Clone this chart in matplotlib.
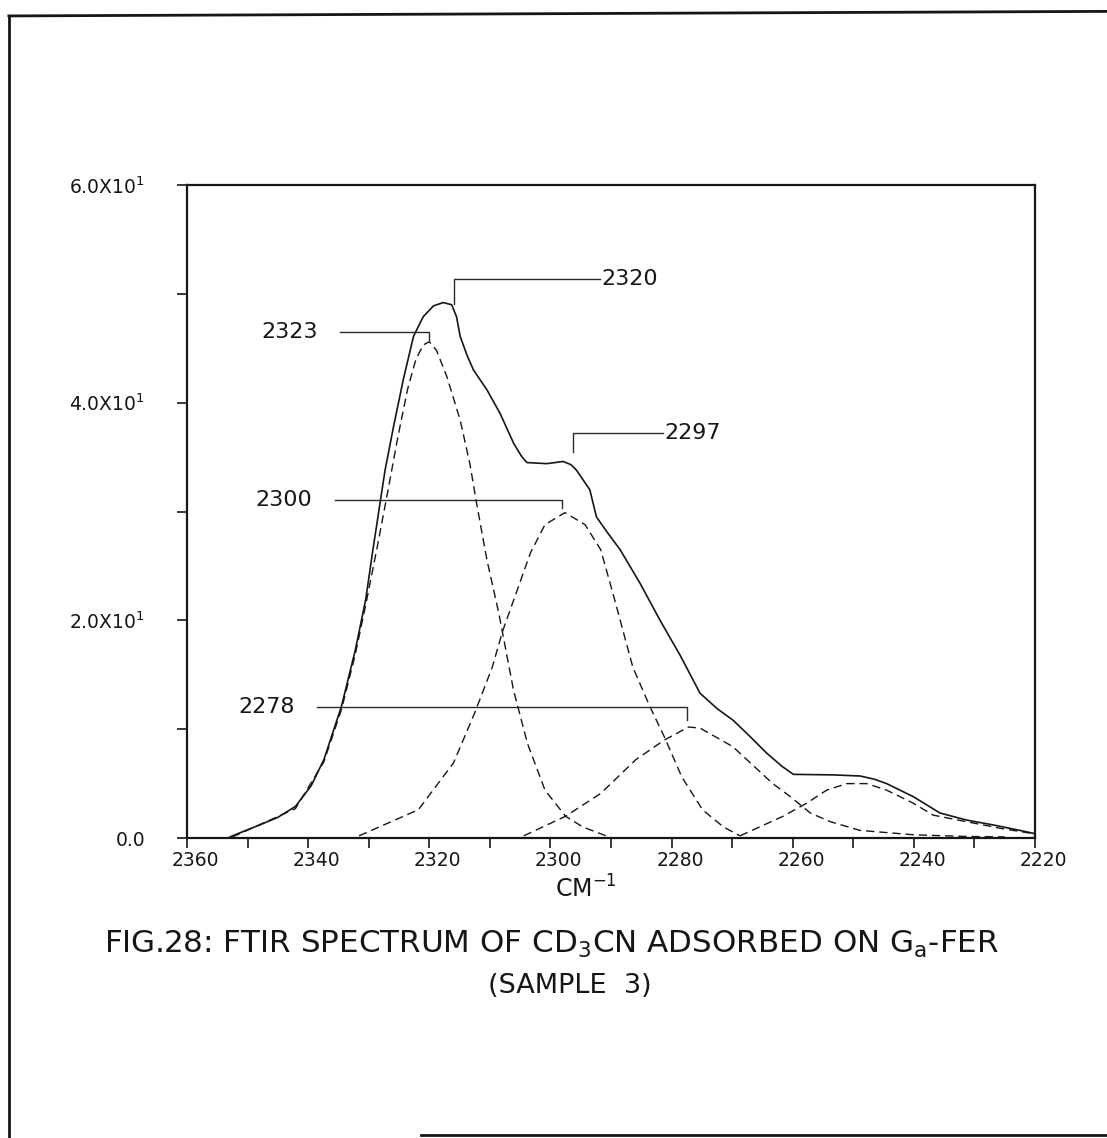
"""FTIR spectrum of CD3CN on Ga-FER (sample 3): traced total curve + fitted bands."""
import matplotlib
matplotlib.use("Agg")
import matplotlib.pyplot as plt
from matplotlib.lines import Line2D
from matplotlib.transforms import ScaledTranslation

plt.rcParams["font.family"] = ["DejaVu Sans"]
plt.rcParams["mathtext.default"] = "regular"

# total spectrum (wavenumber cm-1, absorbance)
total_x = [2353.2, 2352.5, 2348.0, 2345.0, 2342.1, 2339.5, 2337.4, 2334.5, 2332.2,
           2330.5, 2329.3, 2327.3, 2325.9, 2324.3, 2322.6, 2321.0, 2319.3, 2317.7,
           2316.3, 2315.5, 2314.9, 2313.8, 2312.7, 2310.5, 2308.3, 2306.1, 2304.8,
           2303.9, 2300.6, 2297.9, 2296.6, 2295.7, 2293.5, 2292.4, 2290.5, 2288.5,
           2285.2, 2281.9, 2278.6, 2275.3, 2272.5, 2269.8, 2267.0, 2264.3, 2261.8,
           2259.9, 2253.3, 2248.9, 2246.5, 2244.5, 2240.1, 2235.7, 2231.3, 2226.9,
           2222.5, 2220.0]
total_y = [0.0, 0.2, 1.2, 1.9, 2.9, 4.8, 7.2, 12.1, 17.3,
           21.9, 26.5, 33.8, 37.8, 42.1, 46.1, 47.9, 48.9, 49.2,
           49.0, 47.9, 46.1, 44.4, 43.0, 41.2, 39.0, 36.3, 35.1,
           34.5, 34.4, 34.6, 34.3, 33.8, 32.0, 29.5, 28.0, 26.5,
           23.4, 20.0, 16.8, 13.3, 11.9, 10.8, 9.3, 7.8, 6.6,
           5.85, 5.8, 5.7, 5.4, 5.0, 3.8, 2.3, 1.65, 1.2,
           0.7, 0.4]

# fitted component bands (dashed)
band_2323_x = [2352.5, 2342.1, 2337.4, 2334.5, 2332.2, 2330.5, 2328.5, 2326.8, 2325.2,
               2323.6, 2322.2, 2321.0, 2320.0, 2318.8, 2317.1, 2314.9, 2313.3, 2312.2,
               2310.5, 2308.5, 2306.1, 2303.8, 2300.9, 2297.5, 2294.6, 2290.8]
band_2323_y = [0.1, 2.7, 7.0, 11.8, 16.9, 21.4, 27.0, 32.0, 36.8,
               41.2, 44.0, 45.3, 45.6, 44.8, 42.4, 38.4, 34.4, 30.8,
               25.6, 20.6, 13.6, 8.7, 4.4, 2.0, 1.0, 0.2]

band_2300_x = [2331.6, 2321.8, 2316.0, 2312.5, 2309.6, 2307.9, 2305.6, 2303.3, 2300.9,
               2297.6, 2294.3, 2291.7, 2289.4, 2286.4, 2283.6, 2281.2, 2278.3, 2274.9,
               2271.4, 2268.7]
band_2300_y = [0.2, 2.6, 6.9, 11.5, 15.7, 19.0, 22.6, 26.2, 28.8,
               29.9, 28.8, 26.5, 21.9, 15.7, 12.1, 9.3, 5.6, 2.6,
               1.0, 0.2]

band_2278_x = [2304.4, 2297.5, 2291.7, 2285.9, 2281.2, 2277.2, 2275.3, 2269.9, 2266.6,
               2263.3, 2260.4, 2257.1, 2253.8, 2248.9, 2244.5, 2240.1, 2232.0, 2225.0]
band_2278_y = [0.2, 2.0, 4.1, 7.2, 9.0, 10.2, 10.1, 8.4, 6.7,
               5.0, 3.8, 2.3, 1.5, 0.7, 0.5, 0.3, 0.15, 0.1]

band_2250_x = [2268.7, 2261.6, 2257.7, 2254.4, 2251.1, 2247.8, 2244.5, 2240.1, 2236.8,
               2231.3, 2225.8, 2220.3]
band_2250_y = [0.2, 2.0, 3.2, 4.4, 5.0, 5.0, 4.4, 3.2, 2.1,
               1.5, 0.9, 0.4]

# peak markers: label, where the leader touches the curve, leader height, leader end
peak_labels = ["2320", "2323", "2297", "2300", "2278"]
peak_x = [2316.0, 2320.1, 2296.2, 2298.1, 2277.5]
peak_y = [49.1, 45.7, 35.5, 30.3, 10.85]
leader_y = [51.4, 46.5, 37.25, 31.1, 12.0]
leader_end_x = [2291.8, 2334.7, 2281.4, 2335.6, 2338.6]

x_ticks = [2360, 2340, 2320, 2300, 2280, 2260, 2240, 2220]
x_minor = [2350, 2330, 2310, 2290, 2270, 2250, 2230]
y_ticks = [0, 20, 40, 60]
y_minor = [10, 30, 50]
y_tick_labels = ["0.0", "2.0X10$^1$", "4.0X10$^1$", "6.0X10$^1$"]

ink = "#161616"

fig = plt.figure(figsize=(11.07, 11.38), dpi=100)
ax = fig.add_axes([0.1689, 0.2636, 0.7661, 0.5738])

ax.plot(total_x, total_y, color=ink, lw=1.2)
for bx, by in [(band_2323_x, band_2323_y), (band_2300_x, band_2300_y),
               (band_2278_x, band_2278_y), (band_2250_x, band_2250_y)]:
    ax.plot(bx, by, color=ink, lw=1.0, linestyle=(0, (6, 3.5)))

# leader lines with peak labels
for lab, px, py, ly, ex in zip(peak_labels, peak_x, peak_y, leader_y, leader_end_x):
    ax.plot([px, px, ex], [py, ly, ly], color="#2a2a2a", lw=1.0)
    if ex < px:   # reversed axis: smaller wavenumber sits to the right
        ax.annotate(lab, (ex, ly), xytext=(1, 0), textcoords="offset points",
                    ha="left", va="center", fontsize=16, color=ink)
    else:
        ax.annotate(lab, (ex, ly), xytext=(-16, 0), textcoords="offset points",
                    ha="right", va="center", fontsize=16, color=ink)

ax.set_xlim(2360, 2220)
ax.set_ylim(0, 60)
ax.set_xticks(x_ticks)
ax.set_xticks(x_minor, minor=True)
ax.set_yticks(y_ticks)
ax.set_yticks(y_minor, minor=True)
ax.set_yticklabels(y_tick_labels)
ax.tick_params(which="both", direction="out", length=7, width=1.2, color=ink)
ax.tick_params(axis="x", pad=2, labelsize=13.5, labelcolor=ink)
ax.tick_params(axis="y", pad=23, labelsize=13.5, labelcolor=ink)
for lbl in ax.get_xticklabels():
    lbl.set_transform(lbl.get_transform() + ScaledTranslation(6 / 72, 0, fig.dpi_scale_trans))
for s in ax.spines.values():
    s.set_linewidth(1.6)
    s.set_color(ink)

fig.text(0.529, 0.219, "CM$^{-1}$", fontsize=17, ha="center", va="center", color=ink)
fig.text(0.498, 0.170, "FIG.28: FTIR SPECTRUM OF CD$_3$CN ADSORBED ON G$_a$-FER",
         fontsize=22.3, ha="center", va="center", color=ink)
fig.text(0.515, 0.134, "(SAMPLE  3)", fontsize=19.5, ha="center", va="center", color=ink)

# page frame of the scanned sheet
fig.add_artist(Line2D([0.008, 1.0], [0.986, 0.990], color=ink, lw=2.0))
fig.add_artist(Line2D([0.008, 0.008], [0.0, 0.986], color=ink, lw=2.0))
fig.add_artist(Line2D([0.38, 1.0], [0.003, 0.003], color=ink, lw=2.0))

fig.savefig("out.png", dpi=100, facecolor="white")
